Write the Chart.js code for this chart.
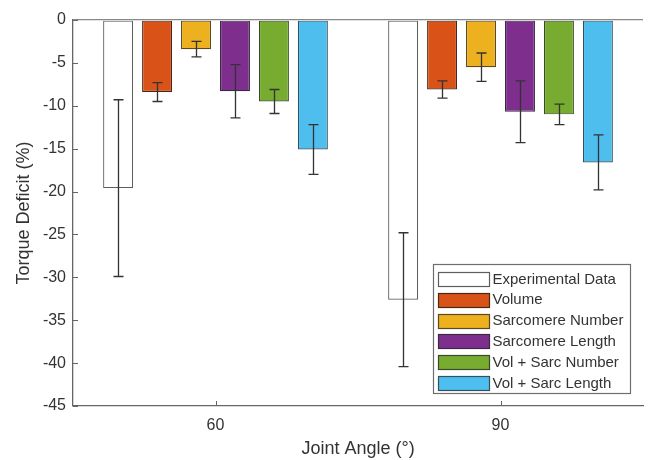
<!DOCTYPE html>
<html>
<head>
<meta charset="utf-8">
<script src="https://cdn.jsdelivr.net/npm/chart.js@4/dist/chart.umd.min.js"></script>
<style>
  body { margin: 0; background: #fff; }
  canvas { display: block; }
</style>
</head>
<body>
<canvas id="barChart" width="649" height="460"></canvas>
<script>
// data, gelezen van de figuur
const angles = ['60', '90'];
const seriesNames = ['Experimental Data', 'Volume', 'Sarcomere Number', 'Sarcomere Length', 'Vol + Sarc Number', 'Vol + Sarc Length'];
const expMean = [-19.6, -32.6];
const expErr = [10.3, 7.8];
const volMean = [-8.4, -8.1];
const volErr = [1.1, 1.0];
const sarcNumMean = [-3.4, -5.5];
const sarcNumErr = [0.9, 1.65];
const sarcLenMean = [-8.3, -10.7];
const sarcLenErr = [3.1, 3.6];
const volSarcNumMean = [-9.5, -11.0];
const volSarcNumErr = [1.4, 1.2];
const volSarcLenMean = [-15.1, -16.6];
const volSarcLenErr = [2.9, 3.2];
const yTicks = [0, -5, -10, -15, -20, -25, -30, -35, -40, -45];

const means = [expMean, volMean, sarcNumMean, sarcLenMean, volSarcNumMean, volSarcLenMean];
const errs = [expErr, volErr, sarcNumErr, sarcLenErr, volSarcNumErr, volSarcLenErr];
const fills = ['#ffffff', '#D95319', '#EDB120', '#7E2F8E', '#77AC30', '#4DBEEE'];
const edges = ['#5e5e5e', '#4a2818', '#5a4a20', '#3a2a40', '#3a4a28', '#34505e'];

const textColor = '#333333';
const axisColor = '#666666';
const fontFam = '"Liberation Sans", Arial, Helvetica, sans-serif';

// error bars + inward ticks + legende
const extrasPlugin = {
	id: 'extras',
	afterDatasetsDraw(chart) {
		const ctx = chart.ctx;
		const y = chart.scales.y;
		ctx.save();
		ctx.strokeStyle = '#333333';
		ctx.lineWidth = 1.3;
		chart.data.datasets.forEach((ds, i) => {
			const meta = chart.getDatasetMeta(i);
			meta.data.forEach((bar, j) => {
				const m = ds.data[j];
				const e = ds.err[j];
				const yTop = y.getPixelForValue(m + e);
				const yBot = y.getPixelForValue(m - e);
				const x = Math.round(bar.x) + 0.5;
				ctx.beginPath();
				ctx.moveTo(x, yTop);
				ctx.lineTo(x, yBot);
				ctx.moveTo(x - 5, yTop);
				ctx.lineTo(x + 5, yTop);
				ctx.moveTo(x - 5, yBot);
				ctx.lineTo(x + 5, yBot);
				ctx.stroke();
			});
		});
		ctx.restore();
	},
	afterDraw(chart) {
		const ctx = chart.ctx;
		const area = chart.chartArea;
		const x = chart.scales.x;
		const y = chart.scales.y;
		ctx.save();
		// ticks naar binnen
		ctx.strokeStyle = axisColor;
		ctx.lineWidth = 1;
		yTicks.forEach(v => {
			const py = Math.round(y.getPixelForValue(v)) + 0.5;
			ctx.beginPath();
			ctx.moveTo(area.left, py);
			ctx.lineTo(area.left + 5, py);
			ctx.stroke();
		});
		angles.forEach((a, i) => {
			const px = Math.round(x.getPixelForValue(i)) + 0.5;
			ctx.beginPath();
			ctx.moveTo(px, area.bottom);
			ctx.lineTo(px, area.bottom - 5);
			ctx.stroke();
		});
		// legende rechtsonder
		const w = 197, h = 129;
		const lx = Math.round(area.right - 13 - w) + 0.5;
		const ly = Math.round(area.bottom - 13 - h) + 0.5;
		ctx.fillStyle = '#ffffff';
		ctx.fillRect(lx, ly, w, h);
		ctx.strokeStyle = '#6e6e6e';
		ctx.lineWidth = 1.2;
		ctx.strokeRect(lx, ly, w, h);
		ctx.font = '15px ' + fontFam;
		ctx.textBaseline = 'middle';
		chart.data.datasets.forEach((ds, i) => {
			const cy = ly + 14.4 + i * 20.8;
			ctx.fillStyle = ds.backgroundColor;
			ctx.fillRect(lx + 5, Math.round(cy - 7), 51, 14);
			ctx.strokeStyle = ds.borderColor;
			ctx.strokeRect(lx + 5, Math.round(cy - 7) + 0.5, 51, 14);
			ctx.fillStyle = textColor;
			ctx.fillText(ds.label, lx + 59, cy + 0.5);
		});
		ctx.restore();
	}
};

const canvas = document.getElementById('barChart');
const config = {
	type: 'bar',
	data: {
		labels: angles,
		datasets: seriesNames.map((name, i) => ({
			label: name,
			data: means[i],
			err: errs[i],
			backgroundColor: fills[i],
			borderColor: edges[i],
			borderWidth: 1.2,
			borderSkipped: false,
			categoryPercentage: 0.82,
			barPercentage: 0.77
		}))
	},
	options: {
		responsive: false,
		animation: false,
		layout: { padding: { left: 0, right: 6, top: 20, bottom: 0 } },
		plugins: {
			legend: { display: false },
			tooltip: { enabled: false }
		},
		scales: {
			x: {
				grid: { display: false, drawTicks: false },
				border: { color: axisColor, width: 1.3 },
				ticks: { color: textColor, padding: 10, font: { family: fontFam, size: 16 } },
				title: { display: true, text: 'Joint Angle (°)', color: textColor, padding: { top: 0, bottom: 0 }, font: { family: fontFam, size: 18 } },
				afterFit(scale) { scale.height = 54; }
			},
			y: {
				min: -45,
				max: 0,
				grid: {
					drawTicks: false,
					color: c => (c.tick && c.tick.value === 0 ? '#888888' : 'rgba(0,0,0,0)'),
					lineWidth: 1.3
				},
				border: { color: axisColor, width: 1.3 },
				ticks: { stepSize: 5, color: textColor, padding: 7, font: { family: fontFam, size: 16 } },
				title: { display: true, text: 'Torque Deficit (%)', color: textColor, padding: { top: 13.5, bottom: 0 }, font: { family: fontFam, size: 18 } },
				afterFit(scale) { scale.width = 73; }
			}
		}
	},
	plugins: [extrasPlugin]
};
new Chart(canvas, config);
</script>
</body>
</html>
